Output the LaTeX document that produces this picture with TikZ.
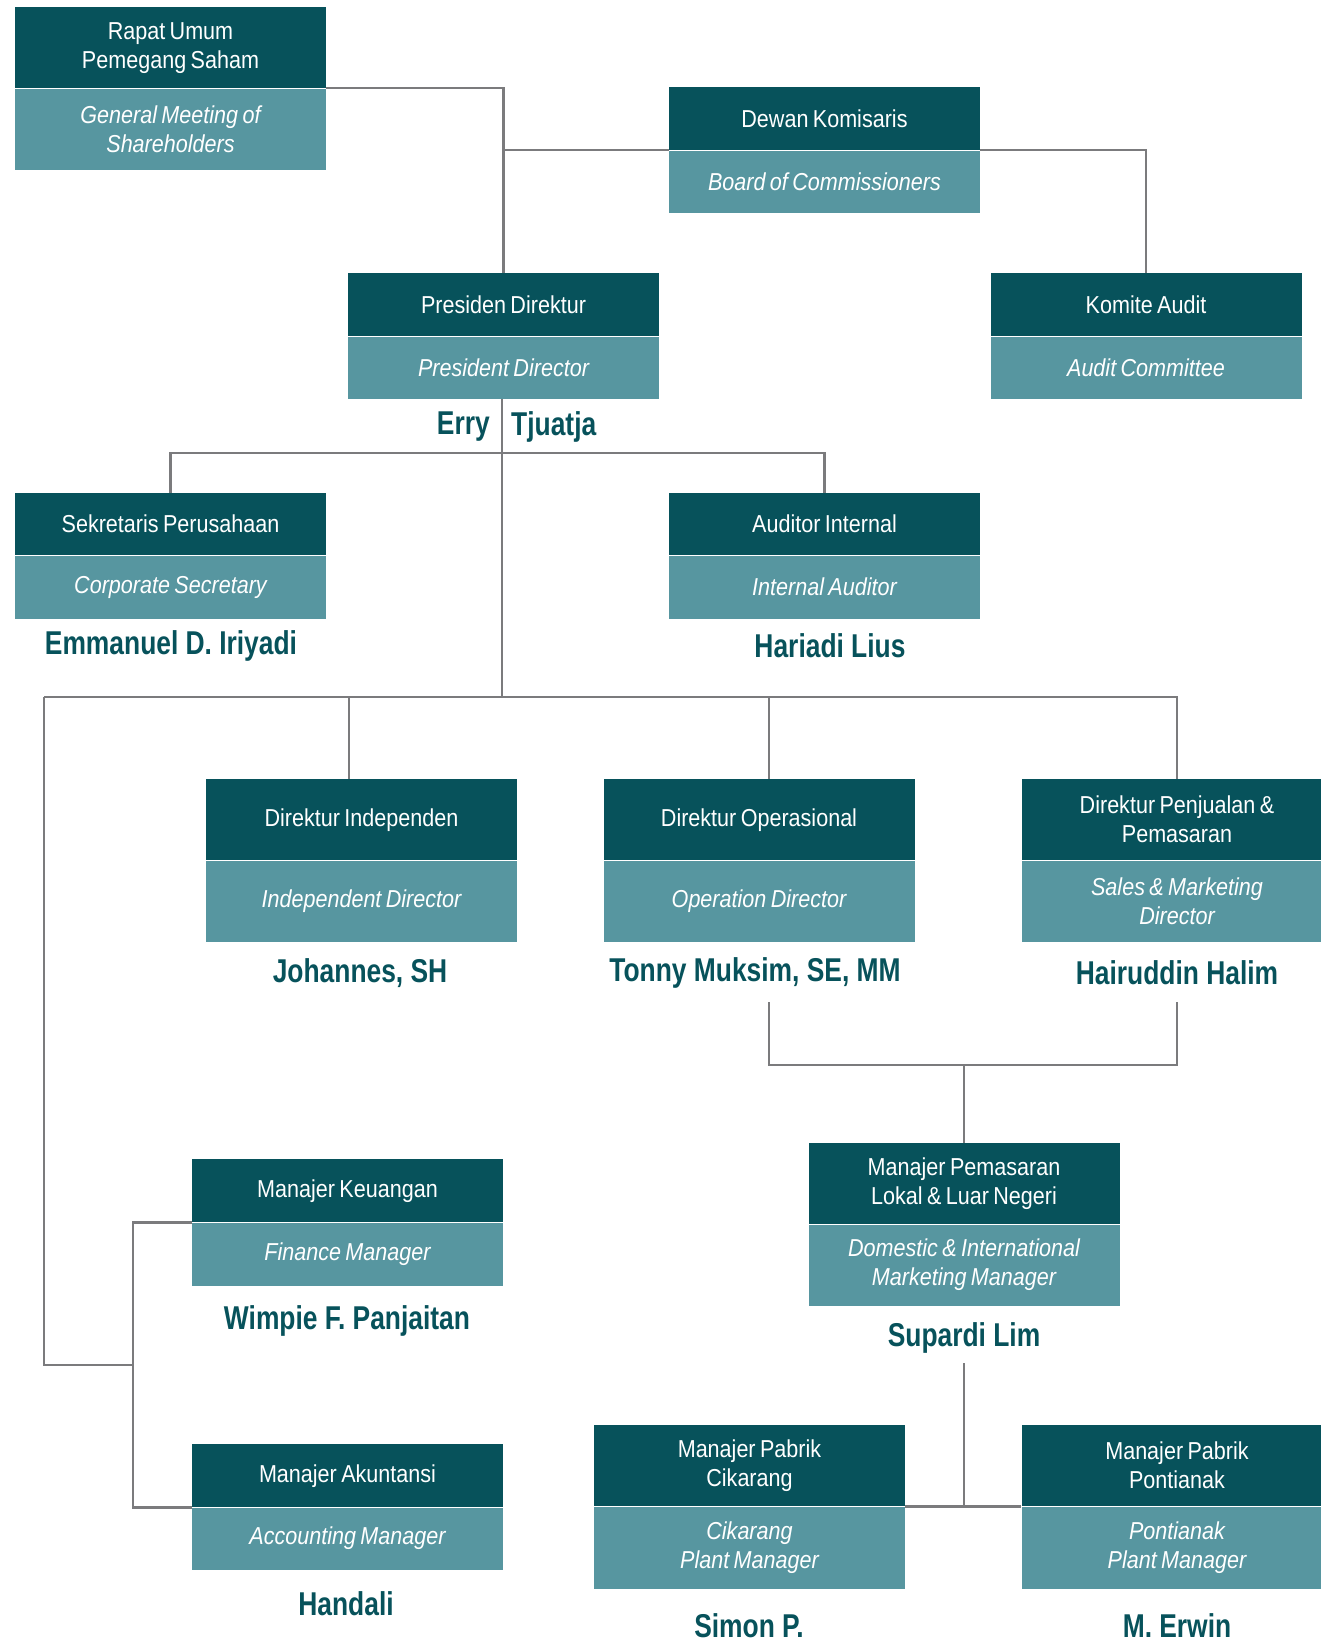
\documentclass[tikz,border=0pt]{standalone}
\usepackage{fontspec}
\setmainfont{Liberation Sans}[FakeStretch=0.8]
\newfontfamily\boxfamily{Liberation Sans}[FakeStretch=0.88]
\usepackage{xcolor}
\definecolor{colorHead}{HTML}{07525B}
\definecolor{colorSub}{HTML}{5796A0}
\definecolor{colorLink}{HTML}{7B7B7D}
\usetikzlibrary{positioning}
\newcommand\boxfont{\boxfamily\fontsize{24.5}{29}\selectfont}
\newcommand\tightspace{\spaceskip 0.18em\relax}
\newcommand\namefont{\fontsize{33}{38}\selectfont\bfseries\spaceskip=0.22em\relax}
\tikzset{
  headbox/.style={fill=colorHead, text=white, text width=311pt, inner xsep=0pt, inner ysep=0pt, align=center, anchor=north, minimum height=#1, font=\boxfont, execute at begin node=\tightspace},
  subbox/.style={fill=colorSub, text=white, text width=311pt, inner xsep=0pt, inner ysep=0pt, align=center, anchor=north, minimum height=#1, font=\boxfont\itshape, execute at begin node=\tightspace},
  person/.style={text=colorHead, inner sep=0pt, yshift=-3pt, font=\namefont},
  link/.style={draw=colorLink, line width=2.2pt}
}
\begin{document}
\begin{tikzpicture}[x=1pt, y=-1pt]
\useasboundingbox (0,0) rectangle (1320,1640);
\node[headbox=81pt] (rups) at (170.5,7) {Rapat Umum\\Pemegang Saham};
\node[subbox=81pt] (rups-en) at (rups.south) {General Meeting of\\Shareholders};
\node[headbox=63pt] (dekom) at (824.5,87) {Dewan Komisaris};
\node[subbox=62pt] (dekom-en) at (dekom.south) {Board of Commissioners};
\node[headbox=63pt] (presdir) at (503.5,273) {Presiden Direktur};
\node[subbox=62pt] (presdir-en) at (presdir.south) {President Director};
\node[headbox=63pt] (komite) at (1146,273) {Komite Audit};
\node[subbox=62pt] (komite-en) at (komite.south) {Audit Committee};
\node[person, anchor=east] (presdir-name-a) at (490,424) {Erry};
\node[person, anchor=west] (presdir-name-b) at (511,424) {Tjuatja};
\node[headbox=62pt] (sekper) at (170.5,493) {Sekretaris Perusahaan};
\node[subbox=63pt] (sekper-en) at (sekper.south) {Corporate Secretary};
\node[person] (sekper-name) at (171,643) {Emmanuel D. Iriyadi};
\node[headbox=62pt] (audint) at (824.5,493) {Auditor Internal};
\node[subbox=63pt] (audint-en) at (audint.south) {Internal Auditor};
\node[person] (audint-name) at (830,643) {Hariadi Lius};
\node[headbox=81pt] (dirind) at (361.5,779) {Direktur Independen};
\node[subbox=81pt] (dirind-en) at (dirind.south) {Independent Director};
\node[person] (dirind-name) at (360,970) {Johannes, SH};
\node[headbox=81pt] (dirops) at (759,779) {Direktur Operasional};
\node[subbox=81pt] (dirops-en) at (dirops.south) {Operation Director};
\node[person] (dirops-name) at (755,970) {Tonny Muksim, SE, MM};
\node[headbox=81pt] (dirsal) at (1177,779) {Direktur Penjualan \&\\Pemasaran};
\node[subbox=81pt] (dirsal-en) at (dirsal.south) {Sales \& Marketing\\Director};
\node[person] (dirsal-name) at (1177,970) {Hairuddin Halim};
\node[headbox=81pt] (mktmgr) at (964,1143) {Manajer Pemasaran\\Lokal \& Luar Negeri};
\node[subbox=81pt] (mktmgr-en) at (mktmgr.south) {Domestic \& International\\Marketing Manager};
\node[person] (mktmgr-name) at (964,1335) {Supardi Lim};
\node[headbox=63pt] (finmgr) at (347.5,1159) {Manajer Keuangan};
\node[subbox=63pt] (finmgr-en) at (finmgr.south) {Finance Manager};
\node[person] (finmgr-name) at (347,1318) {Wimpie F. Panjaitan};
\node[headbox=63pt] (accmgr) at (347.5,1444) {Manajer Akuntansi};
\node[subbox=62pt] (accmgr-en) at (accmgr.south) {Accounting Manager};
\node[person] (accmgr-name) at (346,1601) {Handali};
\node[headbox=81pt] (ckrmgr) at (749.5,1425) {Manajer Pabrik\\Cikarang};
\node[subbox=82pt] (ckrmgr-en) at (ckrmgr.south) {Cikarang\\Plant Manager};
\node[person] (ckrmgr-name) at (749,1623) {Simon P.};
\node[headbox=81pt] (ptkmgr) at (1177,1425) {Manajer Pabrik\\Pontianak};
\node[subbox=82pt] (ptkmgr-en) at (ptkmgr.south) {Pontianak\\Plant Manager};
\node[person] (ptkmgr-name) at (1177,1623) {M. Erwin};
\coordinate (busA) at (502,453);
\coordinate (busB) at (502,697);
\coordinate (busL) at (44,697);
\coordinate (leftfork) at (133,1365);
\coordinate (opsdrop) at (769,1002);
\coordinate (mktfork) at (964,1065);
\coordinate (plantdrop) at (964,1363);
\draw[link] (rups.south east) -| (presdir.north);
\draw[link] (dekom.south west) -- (dekom.south west -| presdir.north);
\draw[link] (dekom.south east) -| (komite.north);
\draw[link] (presdir-en.south -| busA) -- (busB);
\draw[link] (sekper.north) |- (busA) -| (audint.north);
\draw[link] (busL) -- (busB -| dirsal.north) -- (dirsal.north);
\draw[link] ([xshift=-12.5pt]dirind.north) -- ([xshift=-12.5pt]dirind.north |- busB);
\draw[link] ([xshift=10pt]dirops.north) -- ([xshift=10pt]dirops.north |- busB);
\draw[link] (busL) |- (leftfork);
\draw[link] (finmgr.south west) -| (leftfork) |- (accmgr.south west);
\draw[link] (opsdrop) |- (mktfork) -| (opsdrop -| dirsal-name);
\draw[link] (mktfork) -- (mktmgr.north);
\draw[link] (plantdrop) -- (plantdrop |- ckrmgr.south);
\draw[link] (ckrmgr.south east) -- (ptkmgr.south west);
\end{tikzpicture}
\end{document}
